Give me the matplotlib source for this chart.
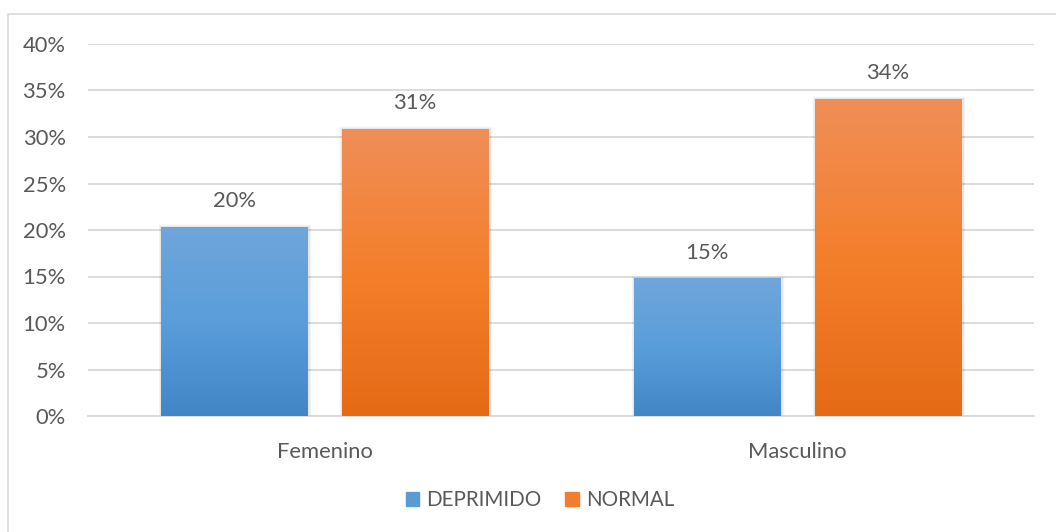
import matplotlib.pyplot as plt
import numpy as np
from matplotlib.colors import LinearSegmentedColormap
from matplotlib.patches import Rectangle
from matplotlib.ticker import PercentFormatter

categories = ['Femenino', 'Masculino']
deprimido = [0.203, 0.148]
normal = [0.309, 0.341]
series_names = ['DEPRIMIDO', 'NORMAL']

plt.rcParams['font.family'] = ['Lato', 'DejaVu Sans']
TEXT = '#595959'
FS = 15.8

fig = plt.figure(figsize=(10.56, 5.32), dpi=100)
# outer chart frame
fig.patches.append(Rectangle((8 / 1056, -0.05), 1.1, 1 - 14 / 532 + 0.05,
                             transform=fig.transFigure, fill=False,
                             edgecolor='#D9D9D9', lw=1.2))
ax = fig.add_axes([88 / 1056, 1 - 416 / 532, 946 / 1056, 372 / 532])

x = np.arange(len(categories))
width = 0.31
offset = 0.191

blue_cmap = LinearSegmentedColormap.from_list('b', ['#4286C6', '#5A9DDB', '#6FA6DA'])
orange_cmap = LinearSegmentedColormap.from_list('o', ['#E56A16', '#F47F2B', '#F08E58'])
grad = np.linspace(0, 1, 256).reshape(-1, 1)


def gradient_bars(xs, vals, cmap, label):
    bars = ax.bar(xs, vals, width, color=cmap(0.5), label=label, zorder=3)
    for b in bars:
        x0, w, h = b.get_x(), b.get_width(), b.get_height()
        # soft shadow
        for k, a in enumerate([0.05, 0.03, 0.015]):
            d = 0.004 * (k + 1)
            ax.add_patch(Rectangle((x0 - d * 0.4, 0), w + d * 0.8 + 0.004, h + 0.001 * (k + 1),
                                   color='black', alpha=a, lw=0, zorder=2))
        b.set_facecolor('none')
        im = ax.imshow(grad, extent=(x0, x0 + w, 0, h), origin='lower',
                       cmap=cmap, aspect='auto', zorder=3)
        im.set_clip_path(b)
        ax.text(x0 + w / 2, h + 0.017, f'{h:.0%}', ha='center', va='bottom',
                fontsize=FS, color=TEXT, zorder=4)
    return bars


gradient_bars(x - offset, deprimido, blue_cmap, series_names[0])
gradient_bars(x + offset, normal, orange_cmap, series_names[1])

ax.set_xlim(-0.5, 1.5)
ax.set_ylim(0, 0.40)
ax.set_yticks(np.arange(0, 0.41, 0.05))
ax.yaxis.set_major_formatter(PercentFormatter(1.0, decimals=0))
ax.set_xticks(x)
ax.set_xticklabels(categories)
ax.tick_params(axis='both', length=0, labelsize=FS, colors=TEXT)
ax.tick_params(axis='x', pad=19)
ax.tick_params(axis='y', pad=16)
ax.grid(axis='y', color='#D9D9D9', lw=1.3, zorder=0)
ax.set_axisbelow(True)
for s in ['top', 'right', 'left']:
    ax.spines[s].set_visible(False)
ax.spines['bottom'].set_color('#D9D9D9')
ax.spines['bottom'].set_linewidth(1.3)

handles = [Rectangle((0, 0), 1, 1, color='#5A9BD5'), Rectangle((0, 0), 1, 1, color='#F07E2E')]
fig.legend(handles, series_names, loc='center', bbox_to_anchor=(0.5 + 12 / 1056, 1 - 500 / 532),
           ncol=2, frameon=False, fontsize=14.8, handlelength=0.65, handleheight=0.65,
           handletextpad=0.35, columnspacing=1.15, labelcolor=TEXT)

fig.savefig('out.png', dpi=100)
